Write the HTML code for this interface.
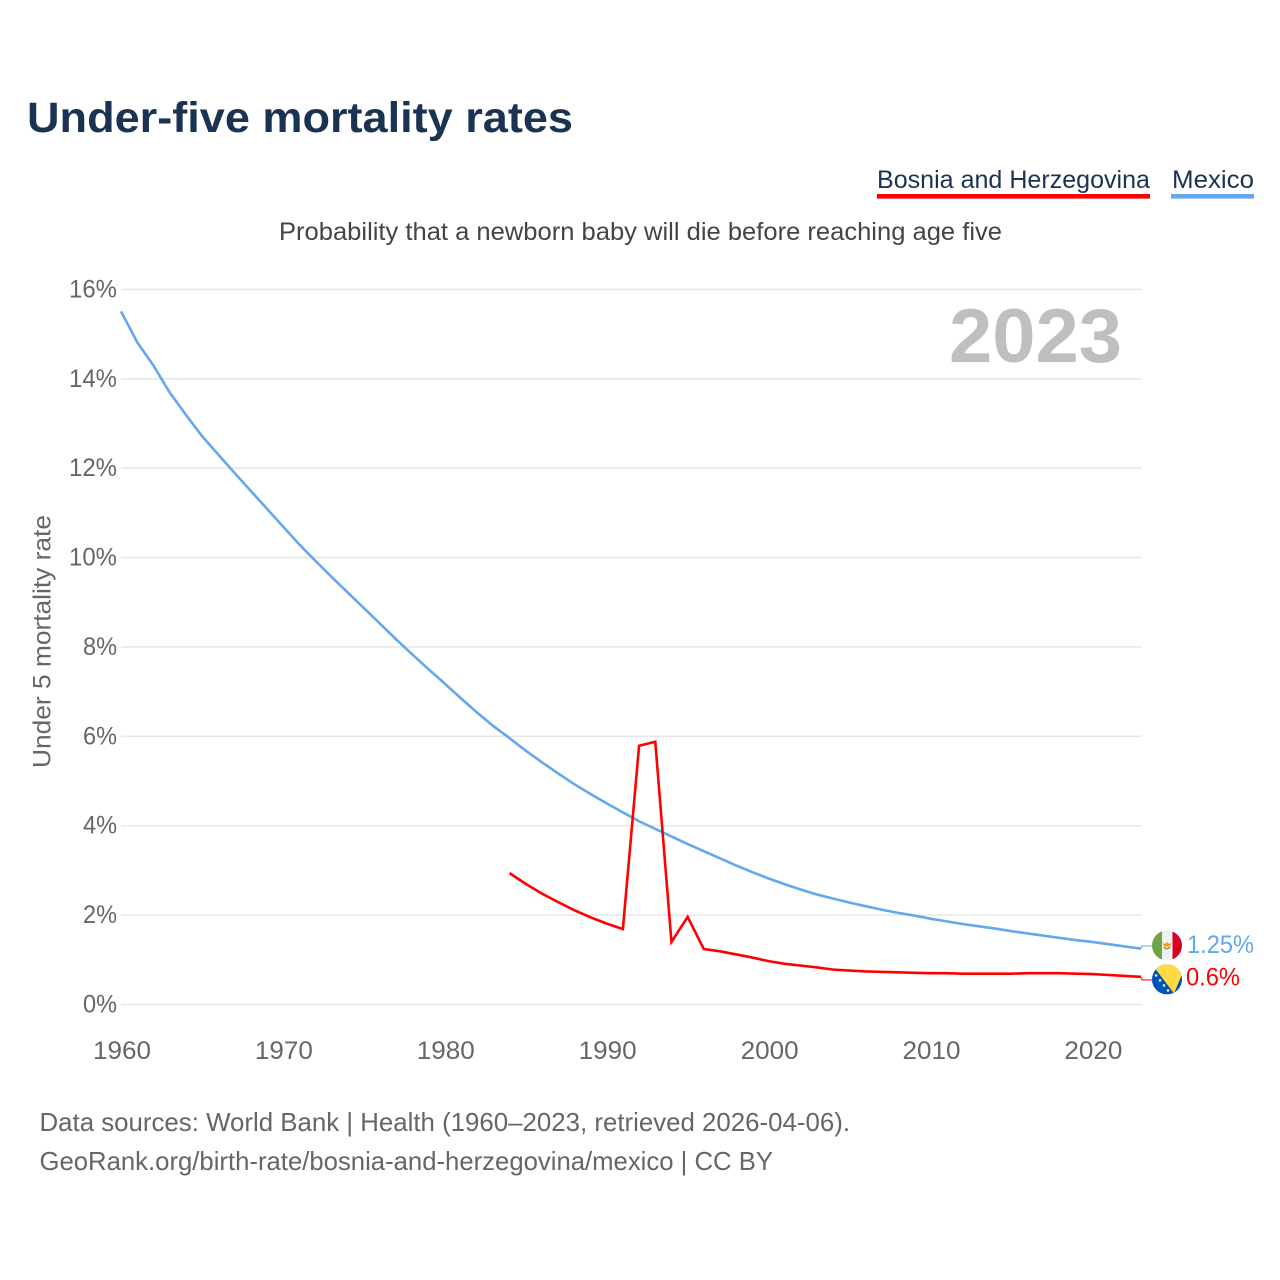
<!DOCTYPE html>
<html lang="en">
<head>
<meta charset="utf-8">
<title>Under-five mortality rates</title>
<style>
html,body{margin:0;padding:0;background:#fff;}
svg{display:block;}
text{font-family:"Liberation Sans",sans-serif;}
</style>
</head>
<body>
<svg id="chart" xmlns="http://www.w3.org/2000/svg" width="1280" height="1280" viewBox="0 0 1280 1280">
  <rect x="0" y="0" width="1280" height="1280" fill="#ffffff"/>
  <text x="27" y="132" font-size="43" font-weight="700" fill="#1b3353" textLength="546" lengthAdjust="spacingAndGlyphs">Under-five mortality rates</text>

  <g>
    <text x="877" y="188" font-size="25" fill="#1b3353" textLength="273" lengthAdjust="spacingAndGlyphs">Bosnia and Herzegovina</text>
    <rect x="877" y="194" width="273" height="4.6" fill="#ff0000"/>
  </g>
  <g>
    <text x="1172" y="188" font-size="25" fill="#1b3353" textLength="82" lengthAdjust="spacingAndGlyphs">Mexico</text>
    <rect x="1171" y="194" width="83" height="4.6" fill="#63a8ec"/>
  </g>

  <text x="279" y="240" font-size="25" fill="#444444" textLength="723" lengthAdjust="spacingAndGlyphs">Probability that a newborn baby will die before reaching age five</text>

  <g id="grid"></g>
  <text x="949" y="362" font-size="76" font-weight="700" fill="#bfbfbf" textLength="173" lengthAdjust="spacingAndGlyphs">2023</text>
  <g id="yticks"></g>
  <g id="xticks"></g>
  <text x="0" y="0" transform="translate(50.5 768) rotate(-90)" font-size="25" fill="#666666" textLength="253" lengthAdjust="spacingAndGlyphs">Under 5 mortality rate</text>

  <g id="series"></g>

  <defs>
    <clipPath id="flag-clip"><circle cx="0" cy="0" r="15"/></clipPath>
  </defs>

  <g id="flag-mexico">
    <g clip-path="url(#flag-clip)">
      <rect x="-15" y="-15" width="30" height="30" fill="#f0f0f0"/>
      <rect x="-15" y="-15" width="10" height="30" fill="#6da544"/>
      <rect x="5.5" y="-15" width="9.5" height="30" fill="#d80027"/>
      <path d="M-4.5 -3 L-2 -1.5 L0 -3.5 L2 -1.5 L4.5 -3 L3 1 L-3 1 Z" fill="#ff9811"/>
      <path d="M-4 1.5 Q0 6.5 4 1.5 L2 1.5 Q0 3.5 -2 1.5 Z" fill="#6da544"/>
    </g>
  </g>
  <g id="flag-bosnia">
    <g clip-path="url(#flag-clip)">
      <rect x="-15" y="-15" width="30" height="30" fill="#0052b4"/>
      <polygon points="-15,-15 15,-15 15,-5 7,14" fill="#ffda44"/>
      <g fill="#f0f0f0">
        <circle cx="-11" cy="-4" r="1.3"/>
        <circle cx="-7" cy="1" r="1.3"/>
        <circle cx="-3" cy="6" r="1.3"/>
        <circle cx="1" cy="11" r="1.3"/>
      </g>
    </g>
  </g>

  <g id="endlabels"></g>

  <text x="39.5" y="1131" font-size="26" fill="#666666" textLength="810.5" lengthAdjust="spacingAndGlyphs">Data sources: World Bank | Health (1960–2023, retrieved 2026-04-06).</text>
  <text x="39.5" y="1170" font-size="26" fill="#666666" textLength="733.5" lengthAdjust="spacingAndGlyphs">GeoRank.org/birth-rate/bosnia-and-herzegovina/mexico | CC BY</text>
</svg>

<script>
const years = [];
for (let yr = 1960; yr <= 2023; yr++) years.push(yr);

const mexicoValues = [
  15.51, 14.82, 14.3, 13.7, 13.2, 12.72, 12.31, 11.9, 11.5, 11.1,
  10.7, 10.3, 9.93, 9.57, 9.22, 8.87, 8.52, 8.17, 7.83, 7.5,
  7.18, 6.85, 6.53, 6.23, 5.96, 5.68, 5.42, 5.17, 4.93, 4.71,
  4.5, 4.3, 4.1, 3.93, 3.76, 3.59, 3.43, 3.27, 3.11, 2.96,
  2.82, 2.69, 2.57, 2.46, 2.37, 2.28, 2.2, 2.12, 2.05, 1.99,
  1.92, 1.86, 1.8, 1.75, 1.7, 1.64, 1.59, 1.54, 1.49, 1.44,
  1.4, 1.35, 1.3, 1.25
];

const bosniaYears = [];
for (let yr = 1984; yr <= 2023; yr++) bosniaYears.push(yr);

const bosniaValues = [
  2.94, 2.7, 2.48, 2.29, 2.11, 1.95, 1.81, 1.69, 5.79, 5.88,
  1.4, 1.96, 1.24, 1.19, 1.12, 1.05, 0.97, 0.91, 0.87, 0.83,
  0.78, 0.76, 0.74, 0.73, 0.72, 0.71, 0.7, 0.7, 0.69, 0.69,
  0.69, 0.69, 0.7, 0.7, 0.7, 0.69, 0.68, 0.66, 0.64, 0.62
];

const yTickValues = [0, 2, 4, 6, 8, 10, 12, 14, 16];
const xTickValues = [1960, 1970, 1980, 1990, 2000, 2010, 2020];
const mexicoEndLabel = '1.25%';
const bosniaEndLabel = '0.6%';

const SVGNS = 'http://www.w3.org/2000/svg';
const xScale = function (yr) { return 121 + (yr - 1960) * 16.19; };
const yScale = function (v) { return 1004.5 - v * 44.69; };

function make(tag, attrs, parent) {
  const el = document.createElementNS(SVGNS, tag);
  for (const k in attrs) el.setAttribute(k, attrs[k]);
  parent.appendChild(el);
  return el;
}

const gridG = document.getElementById('grid');
const yTicksG = document.getElementById('yticks');
yTickValues.forEach(function (v) {
  const line = make('line', { x1: 121, x2: 1141.5, y1: yScale(v), y2: yScale(v), stroke: '#e8e8e8', 'stroke-width': 1.6 }, gridG);
  
  
  const label = String(v) + '%';
  const t = make('text', { x: 117, y: yScale(v) + 8, 'text-anchor': 'end', 'font-size': 25, fill: '#666666', textLength: label.length * 14 + 6, lengthAdjust: 'spacingAndGlyphs' }, yTicksG);
  
  
  t.textContent = label;
});

const xTicksG = document.getElementById('xticks');
xTickValues.forEach(function (yr) {
  const t = make('text', { x: xScale(yr) - 28, y: 1059, 'font-size': 25, fill: '#666666', textLength: 58, lengthAdjust: 'spacingAndGlyphs' }, xTicksG);
  
  
  t.textContent = String(yr);
});

function linePoints(xs, vs) {
  return xs.map(function (yr, i) { return xScale(yr).toFixed(2) + ',' + yScale(vs[i]).toFixed(2); }).join(' ');
}

const seriesG = document.getElementById('series');
const mexicoLine = make('polyline', { points: linePoints(years, mexicoValues), fill: 'none', stroke: '#63a8ec', 'stroke-width': 2.6, 'stroke-linejoin': 'miter' }, seriesG);


const bosniaLine = make('polyline', { points: linePoints(bosniaYears, bosniaValues), fill: 'none', stroke: '#ff0000', 'stroke-width': 2.6, 'stroke-linejoin': 'miter' }, seriesG);



const endX = xScale(2023);
const mexEndY = yScale(mexicoValues[mexicoValues.length - 1]);
const bosEndY = yScale(bosniaValues[bosniaValues.length - 1]);
const mexFlagY = mexEndY - 3.2;
const bosFlagY = bosEndY + 2.6;

const mexConn = make('polyline', { points: endX + ',' + mexEndY + ' ' + (endX + 1) + ',' + (mexFlagY + 0.5) + ' ' + (endX + 12) + ',' + (mexFlagY + 0.5), fill: 'none', stroke: '#63a8ec', 'stroke-width': 1.4, opacity: 0.75 }, seriesG);


const bosConn = make('polyline', { points: endX + ',' + bosEndY + ' ' + (endX + 1) + ',' + (bosFlagY + 0.5) + ' ' + (endX + 12) + ',' + (bosFlagY + 0.5), fill: 'none', stroke: '#ff0000', 'stroke-width': 1.4, opacity: 0.75 }, seriesG);



document.getElementById('flag-mexico').setAttribute('transform', 'translate(1167 ' + mexFlagY + ')');
document.getElementById('flag-bosnia').setAttribute('transform', 'translate(1167 ' + bosFlagY + ')');

const labelsG = document.getElementById('endlabels');
const mexLabel = make('text', { x: 1187, y: mexFlagY + 7.5, 'font-size': 25, fill: '#63a8ec', textLength: 67, lengthAdjust: 'spacingAndGlyphs' }, labelsG);


mexLabel.textContent = mexicoEndLabel;
const bosLabel = make('text', { x: 1186, y: bosFlagY + 6, 'font-size': 25, fill: '#ff0000', textLength: 54, lengthAdjust: 'spacingAndGlyphs' }, labelsG);


bosLabel.textContent = bosniaEndLabel;
</script>
</body>
</html>
